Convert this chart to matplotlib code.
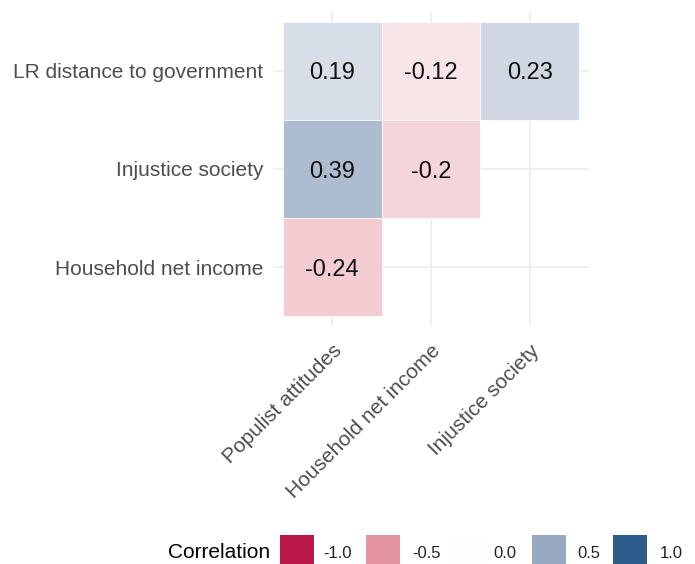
import matplotlib
matplotlib.use("Agg")
import matplotlib.pyplot as plt
from matplotlib.colors import LinearSegmentedColormap, Normalize
from matplotlib.patches import Rectangle

plt.rcParams['font.family'] = ['Liberation Sans', 'DejaVu Sans']

x_labels = ["Populist attitudes", "Household net income", "Injustice society"]
y_labels = ["Household net income", "Injustice society", "LR distance to government"]
# (x index, y index, value)
cell_x = [0, 1, 2, 0, 1, 0]
cell_y = [2, 2, 2, 1, 1, 0]
cell_val = [0.19, -0.12, 0.23, 0.39, -0.2, -0.24]
cell_text = ["0.19", "-0.12", "0.23", "0.39", "-0.2", "-0.24"]
legend_breaks = [-1.0, -0.5, 0.0, 0.5, 1.0]
legend_labels = ["-1.0", "-0.5", "0.0", "0.5", "1.0"]

cmap = LinearSegmentedColormap.from_list(
    "corr", [(0.0, "#B8194A"), (0.25, "#E4959F"), (0.5, "#FFFFFF"), (0.75, "#97A9C3"), (1.0, "#2D5B8A")])
norm = Normalize(-1, 1)

W, H = 695, 564
fig = plt.figure(figsize=(W / 100, H / 100), dpi=100)
ax = fig.add_axes([273 / W, 1 - 326 / H, (589 - 273) / W, (326 - 12) / H])
ax.set_xlim(-0.6, 2.6)
ax.set_ylim(-0.6, 2.6)
for s in ax.spines.values():
    s.set_visible(False)
ax.set_axisbelow(True)
ax.grid(True, color="#EBEBEB", linewidth=1.1)
ax.set_xticks(range(len(x_labels)))
ax.set_xticklabels(x_labels, rotation=45, ha="right", va="top", rotation_mode="anchor",
                   fontsize=15, color="#4D4D4D")
ax.set_yticks(range(len(y_labels)))
ax.set_yticklabels(y_labels, fontsize=15, color="#4D4D4D")
ax.tick_params(axis="y", length=0, pad=7)
ax.tick_params(axis="x", length=0, pad=11)

for xi, yi, v, t in zip(cell_x, cell_y, cell_val, cell_text):
    ax.add_patch(Rectangle((xi - 0.5, yi - 0.5), 1, 1, facecolor=cmap(norm(v)), edgecolor="white",
                           linewidth=0.5, zorder=2))
    ax.text(xi, yi, t, ha="center", va="center_baseline", fontsize=17, color="#111111", zorder=3)

# legend
lax = fig.add_axes([0, 0, 1, 1])
lax.set_xlim(0, W)
lax.set_ylim(H, 0)
lax.axis("off")
lax.text(168, 553, "Correlation", ha="left", va="center", fontsize=15, color="black")
key_x = [280, 366, 449, 532, 613]
lab_x = [323, 412, 493, 577, 660]
for kx, lx, b, lab in zip(key_x, lab_x, legend_breaks, legend_labels):
    lax.add_patch(Rectangle((kx, 535), 34, 34, facecolor=cmap(norm(b)), edgecolor="none"))
    lax.text(lx, 553, lab, ha="left", va="center", fontsize=12, color="#222222")

fig.savefig("out.png", dpi=100)
